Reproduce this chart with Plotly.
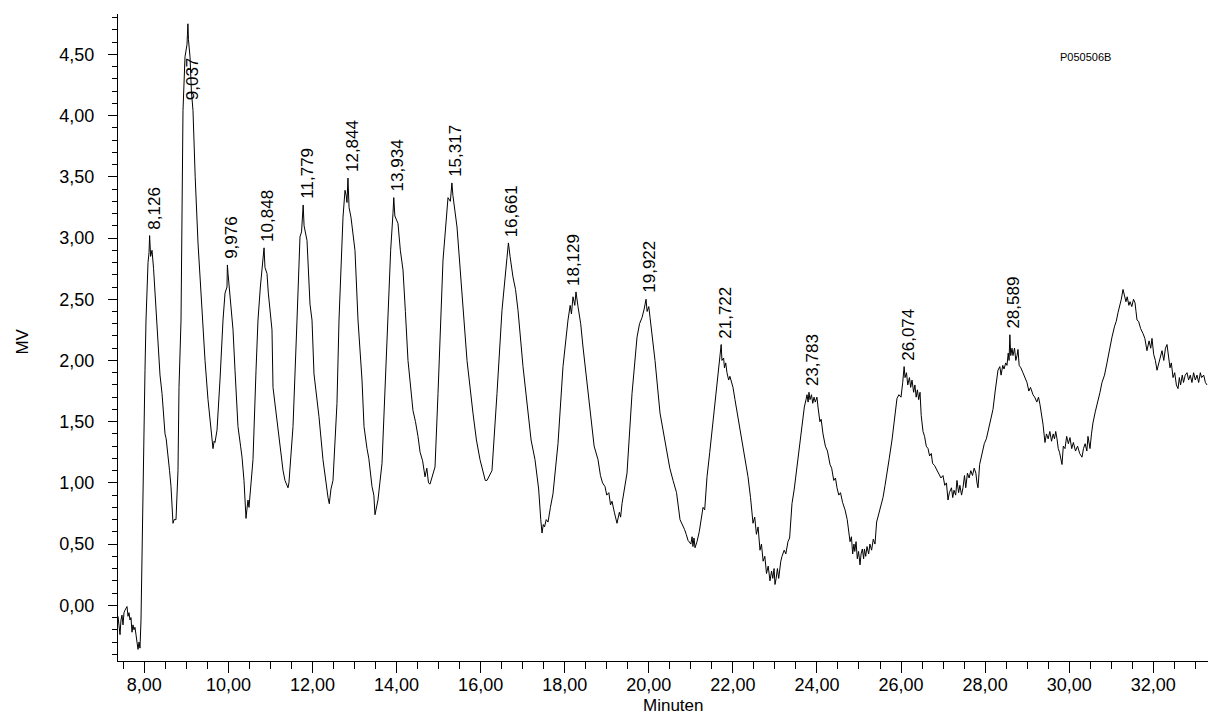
import plotly.graph_objects as go

# Chromatogram trace: (minutes, MV)
trace_points = [
    (7.374, -0.09), (7.398, -0.20), (7.422, -0.24), (7.445, -0.12), (7.469, -0.08), (7.493, -0.16),
    (7.517, -0.06), (7.540, -0.04), (7.564, -0.02), (7.588, -0.01), (7.612, -0.09), (7.635, -0.06),
    (7.659, -0.12), (7.683, -0.10), (7.707, -0.22), (7.730, -0.16), (7.754, -0.20), (7.778, -0.18),
    (7.802, -0.24), (7.826, -0.31), (7.850, -0.36), (7.874, -0.30), (7.897, -0.35), (7.921, -0.12),
    (7.945, 0.42), (7.969, 1.24), (7.993, 1.60), (8.016, 1.92), (8.040, 2.33), (8.064, 2.68),
    (8.088, 2.80), (8.112, 2.88), (8.126, 3.02), (8.150, 2.85), (8.183, 2.90), (8.220, 2.75),
    (8.254, 2.55), (8.302, 2.25), (8.326, 2.06), (8.373, 1.88), (8.421, 1.73), (8.450, 1.60),
    (8.492, 1.40), (8.520, 1.36), (8.563, 1.24), (8.600, 1.10), (8.635, 0.97), (8.682, 0.67),
    (8.710, 0.70), (8.754, 0.70), (8.801, 1.10), (8.825, 1.78), (8.873, 2.33), (8.900, 3.20),
    (8.920, 4.04), (8.968, 4.48), (8.990, 4.52), (9.015, 4.58), (9.025, 4.66), (9.037, 4.75),
    (9.050, 4.62), (9.087, 4.48), (9.120, 4.20), (9.158, 4.04), (9.210, 3.50), (9.277, 2.96),
    (9.340, 2.60), (9.396, 2.25), (9.444, 2.00), (9.515, 1.68), (9.540, 1.60), (9.562, 1.49),
    (9.600, 1.40), (9.634, 1.28), (9.660, 1.34), (9.681, 1.33), (9.729, 1.43), (9.760, 1.60),
    (9.800, 1.84), (9.872, 2.33), (9.920, 2.55), (9.967, 2.60), (9.976, 2.78), (9.991, 2.71),
    (10.038, 2.52), (10.110, 2.25), (10.157, 1.92), (10.190, 1.70), (10.228, 1.46), (10.290, 1.30),
    (10.324, 1.21), (10.371, 1.02), (10.419, 0.71), (10.440, 0.78), (10.466, 0.86), (10.490, 0.80),
    (10.514, 0.91), (10.585, 1.19), (10.657, 1.92), (10.704, 2.33), (10.760, 2.60), (10.799, 2.74),
    (10.848, 2.92), (10.870, 2.76), (10.918, 2.71), (10.950, 2.55), (10.990, 2.38), (11.037, 2.25),
    (11.061, 1.78), (11.156, 1.49), (11.220, 1.30), (11.275, 1.16), (11.300, 1.10), (11.346, 1.02),
    (11.380, 0.99), (11.418, 0.96), (11.440, 1.00), (11.465, 1.14), (11.537, 1.46), (11.632, 2.33),
    (11.680, 2.80), (11.703, 3.01), (11.740, 3.05), (11.779, 3.27), (11.800, 3.10), (11.870, 2.98),
    (11.941, 2.46), (11.989, 2.33), (12.036, 1.89), (12.100, 1.70), (12.155, 1.54), (12.250, 1.19),
    (12.345, 0.93), (12.370, 0.88), (12.400, 0.83), (12.440, 0.95), (12.488, 1.02), (12.583, 1.65),
    (12.631, 2.33), (12.680, 2.80), (12.726, 3.17), (12.774, 3.39), (12.800, 3.35), (12.821, 3.29),
    (12.844, 3.49), (12.870, 3.25), (12.916, 3.17), (13.011, 2.90), (13.083, 2.33), (13.178, 1.84),
    (13.226, 1.46), (13.297, 1.28), (13.340, 1.20), (13.416, 0.97), (13.460, 0.90), (13.487, 0.74),
    (13.520, 0.80), (13.558, 0.86), (13.654, 1.16), (13.725, 1.78), (13.796, 2.33), (13.860, 2.90),
    (13.915, 3.20), (13.934, 3.33), (13.960, 3.18), (14.034, 3.12), (14.090, 2.90), (14.153, 2.74),
    (14.210, 2.40), (14.272, 2.00), (14.391, 1.59), (14.450, 1.50), (14.510, 1.38), (14.560, 1.25),
    (14.620, 1.18), (14.677, 1.05), (14.720, 1.12), (14.760, 1.00), (14.796, 0.99), (14.840, 1.05),
    (14.915, 1.13), (14.986, 1.73), (15.105, 2.82), (15.224, 3.33), (15.280, 3.30), (15.317, 3.45),
    (15.340, 3.35), (15.438, 3.09), (15.557, 2.55), (15.676, 2.00), (15.818, 1.57), (15.900, 1.35),
    (15.985, 1.19), (16.060, 1.08), (16.110, 1.02), (16.151, 1.02), (16.200, 1.05), (16.270, 1.10),
    (16.389, 1.73), (16.508, 2.41), (16.627, 2.84), (16.661, 2.96), (16.700, 2.85), (16.770, 2.68),
    (16.830, 2.58), (16.889, 2.41), (17.008, 1.95), (17.127, 1.59), (17.200, 1.35), (17.293, 1.19),
    (17.380, 0.95), (17.430, 0.70), (17.460, 0.59), (17.490, 0.66), (17.520, 0.64), (17.560, 0.70),
    (17.603, 0.68), (17.660, 0.80), (17.721, 0.91), (17.840, 1.32), (17.959, 1.95), (18.078, 2.33),
    (18.130, 2.45), (18.160, 2.38), (18.197, 2.52), (18.240, 2.45), (18.268, 2.56), (18.316, 2.44),
    (18.380, 2.30), (18.435, 2.11), (18.520, 1.85), (18.601, 1.59), (18.700, 1.30), (18.792, 1.19),
    (18.850, 1.06), (18.900, 1.00), (18.958, 0.97), (19.000, 0.90), (19.050, 0.92), (19.090, 0.82),
    (19.125, 0.85), (19.180, 0.76), (19.244, 0.67), (19.300, 0.76), (19.330, 0.72), (19.363, 0.83),
    (19.420, 0.95), (19.482, 1.08), (19.601, 1.73), (19.720, 2.19), (19.780, 2.30), (19.839, 2.35),
    (19.890, 2.42), (19.934, 2.50), (19.960, 2.40), (20.000, 2.44), (20.030, 2.35), (20.148, 2.00),
    (20.267, 1.57), (20.350, 1.40), (20.434, 1.24), (20.500, 1.12), (20.577, 1.02), (20.620, 0.96),
    (20.660, 0.92), (20.743, 0.70), (20.800, 0.66), (20.850, 0.62), (20.890, 0.58), (20.934, 0.53),
    (21.000, 0.50), (21.030, 0.56), (21.050, 0.48), (21.075, 0.55), (21.100, 0.47), (21.147, 0.52),
    (21.200, 0.60), (21.250, 0.72), (21.290, 0.80), (21.330, 0.78), (21.385, 1.05), (21.450, 1.25),
    (21.527, 1.50), (21.580, 1.62), (21.646, 1.84), (21.690, 1.98), (21.722, 2.13), (21.740, 2.00),
    (21.780, 2.02), (21.800, 1.94), (21.830, 1.98), (21.860, 1.90), (21.900, 1.84), (21.930, 1.87),
    (22.003, 1.78), (22.050, 1.68), (22.100, 1.58), (22.170, 1.46), (22.220, 1.36), (22.280, 1.22),
    (22.360, 1.05), (22.420, 0.88), (22.479, 0.67), (22.520, 0.72), (22.560, 0.58), (22.600, 0.64),
    (22.645, 0.45), (22.680, 0.50), (22.720, 0.36), (22.760, 0.40), (22.800, 0.26), (22.840, 0.32),
    (22.883, 0.20), (22.920, 0.28), (22.950, 0.22), (22.980, 0.30), (23.002, 0.17), (23.030, 0.22),
    (23.060, 0.30), (23.090, 0.22), (23.110, 0.28), (23.140, 0.36), (23.169, 0.40), (23.220, 0.45),
    (23.260, 0.42), (23.311, 0.52), (23.350, 0.55), (23.406, 0.83), (23.460, 0.95), (23.525, 1.13),
    (23.580, 1.30), (23.645, 1.51), (23.700, 1.62), (23.740, 1.68), (23.764, 1.72), (23.790, 1.66),
    (23.810, 1.74), (23.835, 1.68), (23.870, 1.72), (23.900, 1.65), (23.930, 1.70), (23.960, 1.66),
    (24.000, 1.70), (24.025, 1.62), (24.070, 1.50), (24.100, 1.52), (24.144, 1.40), (24.200, 1.30),
    (24.250, 1.26), (24.311, 1.15), (24.350, 1.12), (24.400, 1.02), (24.440, 1.04), (24.477, 0.96),
    (24.520, 0.90), (24.560, 0.92), (24.610, 0.84), (24.668, 0.78), (24.720, 0.70), (24.787, 0.52),
    (24.820, 0.56), (24.850, 0.42), (24.880, 0.50), (24.900, 0.44), (24.930, 0.52), (24.960, 0.38),
    (24.990, 0.44), (25.024, 0.33), (25.050, 0.42), (25.080, 0.46), (25.110, 0.38), (25.130, 0.46),
    (25.160, 0.40), (25.191, 0.48), (25.230, 0.42), (25.260, 0.50), (25.300, 0.45), (25.340, 0.54),
    (25.381, 0.50), (25.420, 0.68), (25.452, 0.72), (25.500, 0.78), (25.571, 0.88), (25.620, 0.98),
    (25.666, 1.10), (25.720, 1.20), (25.785, 1.35), (25.840, 1.50), (25.904, 1.69), (25.950, 1.72),
    (26.000, 1.70), (26.040, 1.82), (26.074, 1.95), (26.095, 1.86), (26.130, 1.90), (26.160, 1.80),
    (26.200, 1.86), (26.230, 1.78), (26.261, 1.84), (26.300, 1.74), (26.330, 1.80), (26.360, 1.70),
    (26.390, 1.76), (26.420, 1.68), (26.452, 1.74), (26.480, 1.55), (26.523, 1.42), (26.560, 1.38),
    (26.600, 1.30), (26.642, 1.28), (26.680, 1.22), (26.720, 1.24), (26.750, 1.16), (26.800, 1.14),
    (26.856, 1.10), (26.900, 1.08), (26.950, 1.04), (26.998, 1.06), (27.040, 0.98), (27.080, 1.00),
    (27.117, 0.86), (27.150, 0.92), (27.200, 0.96), (27.230, 0.88), (27.260, 0.94), (27.300, 0.90),
    (27.331, 1.02), (27.370, 0.92), (27.400, 0.98), (27.440, 0.90), (27.474, 0.96), (27.510, 1.06),
    (27.540, 0.96), (27.580, 1.08), (27.620, 1.04), (27.660, 1.10), (27.700, 1.06), (27.740, 1.12),
    (27.780, 1.08), (27.807, 1.00), (27.831, 0.96), (27.870, 1.15), (27.926, 1.25), (27.980, 1.32),
    (28.030, 1.36), (28.068, 1.42), (28.120, 1.48), (28.187, 1.60), (28.240, 1.75), (28.306, 1.92),
    (28.350, 1.95), (28.380, 1.88), (28.420, 1.96), (28.450, 1.93), (28.490, 1.98), (28.520, 1.96),
    (28.550, 2.06), (28.570, 2.00), (28.589, 2.21), (28.610, 2.04), (28.640, 2.10), (28.663, 2.04),
    (28.700, 2.10), (28.730, 2.00), (28.760, 2.04), (28.782, 2.09), (28.810, 1.96), (28.850, 1.94),
    (28.900, 1.90), (28.950, 1.86), (28.996, 1.82), (29.040, 1.75), (29.080, 1.78), (29.139, 1.72),
    (29.180, 1.70), (29.230, 1.66), (29.270, 1.70), (29.305, 1.64), (29.340, 1.56), (29.377, 1.48),
    (29.424, 1.33), (29.460, 1.40), (29.500, 1.36), (29.540, 1.42), (29.580, 1.34), (29.620, 1.40),
    (29.650, 1.36), (29.680, 1.42), (29.710, 1.36), (29.740, 1.28), (29.770, 1.25), (29.800, 1.20),
    (29.829, 1.15), (29.860, 1.30), (29.900, 1.28), (29.940, 1.38), (29.980, 1.32), (30.019, 1.37),
    (30.060, 1.28), (30.100, 1.33), (30.150, 1.26), (30.200, 1.30), (30.250, 1.24), (30.305, 1.21),
    (30.340, 1.28), (30.380, 1.32), (30.420, 1.26), (30.447, 1.38), (30.495, 1.28), (30.530, 1.40),
    (30.566, 1.49), (30.620, 1.58), (30.680, 1.66), (30.733, 1.74), (30.780, 1.82), (30.840, 1.88),
    (30.899, 1.98), (30.950, 2.08), (31.018, 2.19), (31.080, 2.28), (31.120, 2.32), (31.161, 2.39),
    (31.200, 2.44), (31.240, 2.50), (31.280, 2.58), (31.310, 2.54), (31.350, 2.48), (31.380, 2.52),
    (31.420, 2.45), (31.447, 2.48), (31.490, 2.44), (31.530, 2.50), (31.566, 2.47), (31.590, 2.40),
    (31.613, 2.33), (31.650, 2.32), (31.700, 2.26), (31.756, 2.22), (31.800, 2.18), (31.850, 2.08),
    (31.900, 2.16), (31.940, 2.10), (31.970, 2.18), (32.010, 2.05), (32.050, 2.00), (32.089, 1.92),
    (32.130, 1.98), (32.170, 2.02), (32.208, 2.08), (32.250, 2.00), (32.290, 2.10), (32.327, 2.13),
    (32.360, 2.02), (32.398, 1.94), (32.430, 1.98), (32.470, 1.86), (32.510, 1.90), (32.550, 1.80),
    (32.589, 1.77), (32.620, 1.86), (32.650, 1.80), (32.690, 1.88), (32.720, 1.82), (32.760, 1.88),
    (32.803, 1.90), (32.840, 1.84), (32.880, 1.88), (32.920, 1.82), (32.960, 1.90), (33.000, 1.84),
    (33.041, 1.88), (33.080, 1.82), (33.120, 1.90), (33.150, 1.86), (33.200, 1.88), (33.240, 1.82),
    (33.279, 1.80),
]
times = [p[0] for p in trace_points]
signal = [p[1] for p in trace_points]

# Peak labels (retention times) and the heights at which they sit
peak_times = [8.126, 9.037, 9.976, 10.848, 11.779, 12.844, 13.934, 15.317,
              16.661, 18.129, 19.922, 21.722, 23.783, 26.074, 28.589]
peak_label_y = [3.02, 4.08, 2.78, 2.92, 3.27, 3.49, 3.33, 3.45,
                2.96, 2.56, 2.50, 2.13, 1.74, 1.95, 2.21]
peak_labels = ["8,126", "9,037", "9,976", "10,848", "11,779", "12,844", "13,934", "15,317",
               "16,661", "18,129", "19,922", "21,722", "23,783", "26,074", "28,589"]

x_title = "Minuten"
y_title = "MV"
sample_id = "P050506B"

FONT = "Liberation Sans, Arial, sans-serif"

fig = go.Figure()
fig.add_trace(go.Scatter(
    x=times, y=signal, mode="lines",
    line=dict(color="black", width=1),
    hoverinfo="skip", showlegend=False,
))

annotations = []
for t, yv, lab in zip(peak_times, peak_label_y, peak_labels):
    annotations.append(dict(
        x=t, y=yv, xref="x", yref="y", text=lab, showarrow=False,
        textangle=-90, xanchor="center", yanchor="bottom",
        xshift=4, yshift=4,
        font=dict(family=FONT, size=17, color="black"),
    ))

annotations.append(dict(
    x=0.509, y=-0.0695, xref="paper", yref="paper", text=x_title, showarrow=False,
    xanchor="center", yanchor="middle",
    font=dict(family=FONT, size=17, color="black"),
))
annotations.append(dict(
    x=-0.0885, y=0.493, xref="paper", yref="paper", text=y_title, showarrow=False,
    textangle=-90, xanchor="center", yanchor="middle",
    font=dict(family=FONT, size=17, color="black"),
))
annotations.append(dict(
    x=0.888, y=0.9335, xref="paper", yref="paper", text=sample_id, showarrow=False,
    xanchor="center", yanchor="middle",
    font=dict(family=FONT, size=11, color="black"),
))

fig.update_layout(
    width=1208, height=716, autosize=False,
    margin=dict(l=118, r=0, t=14, b=55, pad=0),
    paper_bgcolor="white", plot_bgcolor="white",
    separators=", ",
    font=dict(family=FONT, size=17, color="black"),
    annotations=annotations,
    showlegend=False,
)

fig.update_xaxes(
    range=[7.374, 33.302], showgrid=False, zeroline=False,
    showline=True, linecolor="black", linewidth=1, mirror=False,
    tick0=0, dtick=2, ticks="outside", ticklen=11, tickwidth=1, tickcolor="black",
    tickformat=".2f", ticklabelstandoff=-4,
    tickfont=dict(family=FONT, size=18, color="black"),
    minor=dict(dtick=0.5, tick0=0, ticks="outside", ticklen=7, tickwidth=1, tickcolor="black", showgrid=False),
)
fig.update_yaxes(
    range=[-0.455, 4.83], showgrid=False, zeroline=False,
    showline=True, linecolor="black", linewidth=1, mirror=False,
    tick0=0, dtick=0.5, ticks="outside", ticklen=9, tickwidth=1, tickcolor="black",
    tickformat=".2f", ticklabelstandoff=10,
    tickfont=dict(family=FONT, size=18, color="black"),
    minor=dict(dtick=0.1, tick0=0, ticks="outside", ticklen=5, tickwidth=1, tickcolor="black", showgrid=False),
)

fig.write_html(
    "out.html",
    config={"displayModeBar": False, "staticPlot": True},
    post_script="document.body.style.margin='0';",
)
